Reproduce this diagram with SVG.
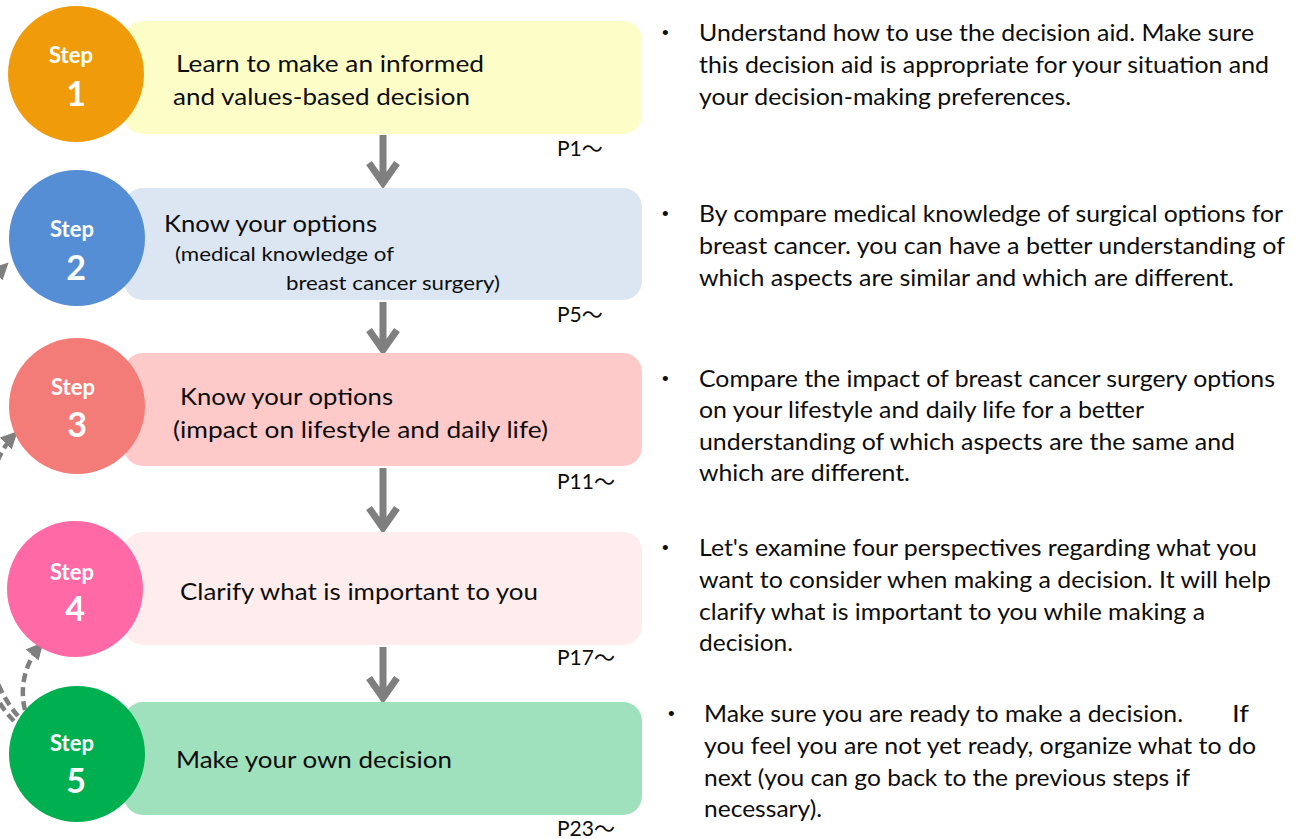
<svg xmlns="http://www.w3.org/2000/svg" width="1300" height="839" viewBox="0 0 1300 839">
<style>
.t{font-family:Lato,"Liberation Sans","Noto Sans CJK JP",sans-serif;fill:#0d0d0d;font-size:24px}
.s{font-size:20px}
.b{font-family:"Liberation Sans",sans-serif;fill:#0d0d0d;font-size:19px}
.p{font-family:Lato,"Liberation Sans","Noto Sans CJK JP",sans-serif;fill:#0d0d0d;font-size:21px}
.st{font-family:Lato,"Liberation Sans",sans-serif;fill:#fff;font-weight:bold;font-size:22px;text-anchor:middle}
.num{font-size:34px}
.dn{fill:none;stroke:#7f7f7f;stroke-width:7;stroke-linejoin:miter}
.back{fill:none;stroke:#7f7f7f;stroke-width:4.5;stroke-dasharray:9 5;marker-end:url(#ah)}
</style>
<defs>
<marker id="ah" viewBox="0 0 10 10" refX="7" refY="5" markerWidth="17" markerHeight="17" markerUnits="userSpaceOnUse" orient="auto">
<path d="M0,0 L10,5 L0,10 z" fill="#7f7f7f"/>
</marker>
</defs>
<rect width="1300" height="839" fill="#fff"/>

<g id="connectors">
<path class="dn" d="M383 135 V183 M369 163 L383 183 L397 163"/>
<path class="dn" d="M383 302 V350 M369 330 L383 350 L397 330"/>
<path class="dn" d="M383 468 V528 M369 508 L383 528 L397 508"/>
<path class="dn" d="M383 647 V698 M369 678 L383 698 L397 678"/>
<path class="back" d="M25 710 C19 686 26 662 40 646"/>
<path class="back" d="M18 716 C-40 650 -30 480 14 435"/>
<path class="back" d="M14 721 C-60 650 -60 330 5 266"/>
</g>

<g id="step1">
<rect x="124" y="21" width="518" height="113" rx="19" fill="#fdfdc8"/>
<circle cx="76" cy="74" r="68" fill="#f09c0a"/>
<text class="st" x="71" y="63">Step</text>
<text class="st num" x="76" y="106">1</text>
<text class="t" x="176" y="72" textLength="308" lengthAdjust="spacingAndGlyphs">Learn to make an informed</text>
<text class="t" x="173" y="105" textLength="297" lengthAdjust="spacingAndGlyphs">and values-based decision</text>
<text class="p" x="557" y="156">P1～</text>
</g>

<g id="step2">
<rect x="124" y="188" width="518" height="112" rx="19" fill="#dce6f2"/>
<circle cx="77" cy="238" r="68" fill="#558ed5"/>
<text class="st" x="72" y="237">Step</text>
<text class="st num" x="76" y="280">2</text>
<text class="t" x="164" y="232" textLength="213" lengthAdjust="spacingAndGlyphs">Know your options</text>
<text class="t s" x="175" y="261" textLength="219" lengthAdjust="spacingAndGlyphs">(medical knowledge of</text>
<text class="t s" x="286" y="290" textLength="214" lengthAdjust="spacingAndGlyphs">breast cancer surgery)</text>
<text class="p" x="557" y="322">P5～</text>
</g>

<g id="step3">
<rect x="124" y="353" width="518" height="113" rx="19" fill="#fec9c9"/>
<circle cx="77" cy="406" r="68" fill="#f47c78"/>
<text class="st" x="73" y="395">Step</text>
<text class="st num" x="77" y="437">3</text>
<text class="t" x="180" y="405" textLength="213" lengthAdjust="spacingAndGlyphs">Know your options</text>
<text class="t" x="173" y="438" textLength="375" lengthAdjust="spacingAndGlyphs">(impact on lifestyle and daily life)</text>
<text class="p" x="557" y="489">P11～</text>
</g>

<g id="step4">
<rect x="124" y="532" width="518" height="113" rx="19" fill="#ffeded"/>
<circle cx="75" cy="589" r="68" fill="#ff69a6"/>
<text class="st" x="72" y="580">Step</text>
<text class="st num" x="75" y="621">4</text>
<text class="t" x="180" y="600" textLength="358" lengthAdjust="spacingAndGlyphs">Clarify what is important to you</text>
<text class="p" x="557" y="665">P17～</text>
</g>

<g id="step5">
<rect x="124" y="702" width="518" height="113" rx="19" fill="#9fe0bd"/>
<circle cx="77" cy="754" r="68" fill="#00b050"/>
<text class="st" x="72" y="751">Step</text>
<text class="st num" x="76" y="793">5</text>
<text class="t" x="176" y="768" textLength="276" lengthAdjust="spacingAndGlyphs">Make your own decision</text>
<text class="p" x="557" y="836">P23～</text>
</g>

<g id="desc1">
<text class="b" x="662" y="39">•</text>
<text class="t" x="699" y="41" textLength="555" lengthAdjust="spacingAndGlyphs">Understand how to use the decision aid. Make sure</text>
<text class="t" x="699" y="73" textLength="570" lengthAdjust="spacingAndGlyphs">this decision aid is appropriate for your situation and</text>
<text class="t" x="699" y="105" textLength="372" lengthAdjust="spacingAndGlyphs">your decision-making preferences.</text>
</g>

<g id="desc2">
<text class="b" x="662" y="220">•</text>
<text class="t" x="699" y="222" textLength="584" lengthAdjust="spacingAndGlyphs">By compare medical knowledge of surgical options for</text>
<text class="t" x="699" y="254" textLength="586" lengthAdjust="spacingAndGlyphs">breast cancer. you can have a better understanding of</text>
<text class="t" x="699" y="286" textLength="535" lengthAdjust="spacingAndGlyphs">which aspects are similar and which are different.</text>
</g>

<g id="desc3">
<text class="b" x="662" y="385">•</text>
<text class="t" x="699" y="387" textLength="576" lengthAdjust="spacingAndGlyphs">Compare the impact of breast cancer surgery options</text>
<text class="t" x="699" y="418" textLength="445" lengthAdjust="spacingAndGlyphs">on your lifestyle and daily life for a better</text>
<text class="t" x="699" y="450" textLength="536" lengthAdjust="spacingAndGlyphs">understanding of which aspects are the same and</text>
<text class="t" x="699" y="481" textLength="211" lengthAdjust="spacingAndGlyphs">which are different.</text>
</g>

<g id="desc4">
<text class="b" x="662" y="554">•</text>
<text class="t" x="699" y="556" textLength="558" lengthAdjust="spacingAndGlyphs">Let's examine four perspectives regarding what you</text>
<text class="t" x="699" y="588" textLength="572" lengthAdjust="spacingAndGlyphs">want to consider when making a decision. It will help</text>
<text class="t" x="699" y="620" textLength="506" lengthAdjust="spacingAndGlyphs">clarify what is important to you while making a</text>
<text class="t" x="699" y="651" textLength="94" lengthAdjust="spacingAndGlyphs">decision.</text>
</g>

<g id="desc5">
<text class="b" x="668" y="720">•</text>
<text class="t" x="704" y="722" textLength="479" lengthAdjust="spacingAndGlyphs">Make sure you are ready to make a decision.</text>
<text class="t" x="1232" y="722" textLength="17" lengthAdjust="spacingAndGlyphs">If</text>
<text class="t" x="704" y="754" textLength="552" lengthAdjust="spacingAndGlyphs">you feel you are not yet ready, organize what to do</text>
<text class="t" x="704" y="786" textLength="486" lengthAdjust="spacingAndGlyphs">next (you can go back to the previous steps if</text>
<text class="t" x="704" y="817" textLength="118" lengthAdjust="spacingAndGlyphs">necessary).</text>
</g>
</svg>
